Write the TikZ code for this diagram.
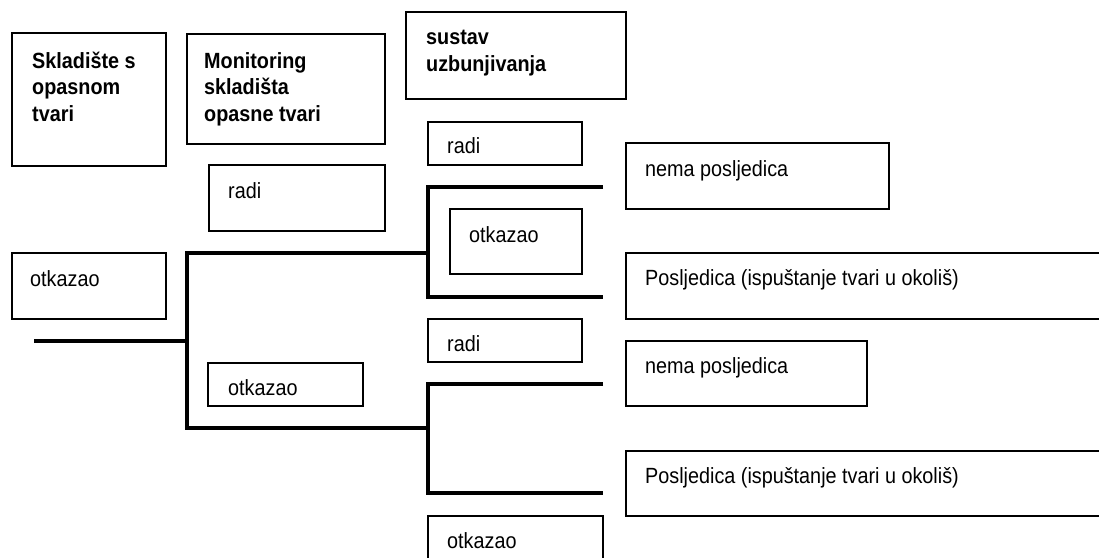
\documentclass[tikz,border=0pt]{standalone}
\usepackage{fontspec}
\setmainfont{Liberation Sans}[FakeStretch=0.9]
\usetikzlibrary{calc}
\begin{document}
\begin{tikzpicture}[x=1pt,y=-1pt,
  box/.style={draw, line width=1.5pt, inner sep=0pt, outer sep=0pt, anchor=north west},
  txt/.style={anchor=base west, inner sep=0pt, font=\fontsize{22}{26.5}\selectfont},
  head/.style={anchor=base west, inner sep=0pt, font=\fontsize{22}{26.5}\selectfont\bfseries},
  branch/.style={line width=4.8pt, line join=miter, line cap=butt}]
\useasboundingbox (0,0) rectangle (1099,557);
\clip (0,0) rectangle (1099,557);

% column headers
\node[box, minimum width=154, minimum height=133] (b1) at (12,33) {};
\node[head] (h1) at ($(b1.north west)+(20,35)$) {\begin{tabular}[t]{@{}l@{}}Skladište s\\opasnom\\tvari\end{tabular}};
\node[box, minimum width=198, minimum height=110] (b2) at (187,34) {};
\node[head] (h2) at ($(b2.north west)+(17,34)$) {\begin{tabular}[t]{@{}l@{}}Monitoring\\skladišta\\opasne tvari\end{tabular}};
\node[box, minimum width=220, minimum height=87] (b3) at (406,12) {};
\node[head, font=\fontsize{22}{27.5}\selectfont\bfseries] (h3) at ($(b3.north west)+(20,32)$) {\begin{tabular}[t]{@{}l@{}}sustav\\uzbunjivanja\end{tabular}};

% state boxes
\node[box, minimum width=154, minimum height=66] (o1) at (12,253) {};
\node[txt] at ($(o1.north west)+(18,33)$) {otkazao};
\node[box, minimum width=176, minimum height=66] (r1) at (209,165) {};
\node[txt] at ($(r1.north west)+(19,33)$) {radi};
\node[box, minimum width=155, minimum height=43] (o2) at (208,363) {};
\node[txt] at ($(o2.north west)+(20,32)$) {otkazao};
\node[box, minimum width=154, minimum height=43] (r2) at (428,122) {};
\node[txt] at ($(r2.north west)+(19,31)$) {radi};
\node[box, minimum width=132, minimum height=65] (o3) at (450,209) {};
\node[txt] at ($(o3.north west)+(19,33)$) {otkazao};
\node[box, minimum width=154, minimum height=43] (r3) at (428,319) {};
\node[txt] at ($(r3.north west)+(19,32)$) {radi};
\node[box, minimum width=175, minimum height=60] (o4) at (428,516) {};
\node[txt] at ($(o4.north west)+(19,32)$) {otkazao};

% outcome boxes
\node[box, minimum width=263, minimum height=66] (n1) at (626,143) {};
\node[txt] at ($(n1.north west)+(19,33)$) {nema posljedica};
\node[box, minimum width=490, minimum height=66] (p1) at (626,253) {};
\node[txt] at ($(p1.north west)+(19,32)$) {Posljedica (ispuštanje tvari u okoliš)};
\node[box, minimum width=241, minimum height=65] (n2) at (626,341) {};
\node[txt] at ($(n2.north west)+(19,32)$) {nema posljedica};
\node[box, minimum width=490, minimum height=65] (p2) at (626,451) {};
\node[txt] at ($(p2.north west)+(19,32)$) {Posljedica (ispuštanje tvari u okoliš)};

% event tree branches
\coordinate (root) at (34,341);
\coordinate (j1) at (187,341);
\coordinate (u) at (187,253);
\coordinate (l) at (187,428);
\coordinate (uj) at (428,253);
\coordinate (lj) at (428,428);
\coordinate (ua) at (428,187);
\coordinate (ub) at (428,297);
\coordinate (ue1) at (603,187);
\coordinate (ue2) at (603,297);
\coordinate (la) at (428,384);
\coordinate (lb) at (428,493);
\coordinate (le1) at (603,384);
\coordinate (le2) at (603,493);

\draw[branch] (root) -- (j1);
\draw[branch] (uj) -- (u) -- (l) -- (lj);
\draw[branch] (ue1) -- (ua) -- (ub) -- (ue2);
\draw[branch] (le1) -- (la) -- (lb) -- (le2);
\end{tikzpicture}
\end{document}
